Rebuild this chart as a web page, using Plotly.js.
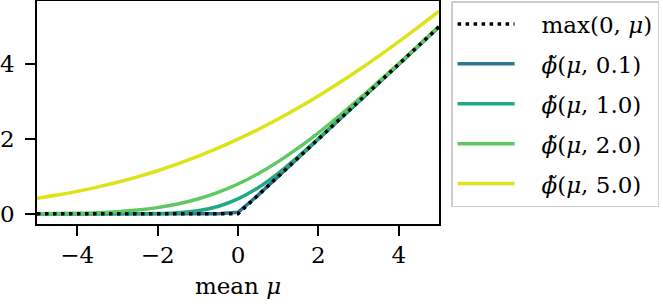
<!DOCTYPE html>
<html>
<head>
<meta charset="utf-8">
<script src="https://cdn.plot.ly/plotly-3.0.1.min.js"></script>
<style>html,body{margin:0;padding:0;background:#fff;}#chart{width:663px;height:308px;}</style>
</head>
<body>
<div id="chart"></div>
<script>
// mean values (x axis)
const mu = [-5, -4.5, -4, -3.5, -3, -2.5, -2, -1.5, -1, -0.5, 0, 0.5, 1, 1.5, 2, 2.5, 3, 3.5, 4, 4.5, 5];
// max(0, mu)
const relu = [0, 0, 0, 0, 0, 0, 0, 0, 0, 0, 0, 0.5, 1, 1.5, 2, 2.5, 3, 3.5, 4, 4.5, 5];
// smoothed curves
const phi01 = [0, 0, 0, 0, 0, 0, 0, 0, 0, 0, 0.04, 0.5, 1, 1.5, 2, 2.5, 3, 3.5, 4, 4.5, 5];
const phi10 = [0, 0, 0, 0.0001, 0.0004, 0.002, 0.0085, 0.0293, 0.0833, 0.1978, 0.3989, 0.6978, 1.0833, 1.5293, 2.0085, 2.502, 3.0004, 3.5001, 4, 4.5, 5];
const phi20 = [0.004, 0.0085, 0.017, 0.0324, 0.0586, 0.1012, 0.1666, 0.2623, 0.3956, 0.5727, 0.7979, 1.0727, 1.3956, 1.7623, 2.1666, 2.6012, 3.0586, 3.5324, 4.017, 4.5085, 5.004];
const phi50 = [0.4166, 0.5022, 0.601, 0.7144, 0.8434, 0.989, 1.1522, 1.3338, 1.5345, 1.7547, 1.9947, 2.2547, 2.5345, 2.8338, 3.1522, 3.489, 3.8434, 4.2144, 4.601, 5.0022, 5.4166];
const names = ["max(0, <i>μ</i>)", "<i>ϕ̃</i>(<i>μ</i>, 0.1)", "<i>ϕ̃</i>(<i>μ</i>, 1.0)", "<i>ϕ̃</i>(<i>μ</i>, 2.0)", "<i>ϕ̃</i>(<i>μ</i>, 5.0)"];
const xTickVals = [-4, -2, 0, 2, 4];
const xTickText = ["−4", "−2", "0", "2", "4"];
const yTickVals = [0, 2, 4];
const yTickText = ["0", "2", "4"];

const colors = ["#000000", "#2a788e", "#22a884", "#5ec962", "#dde318"];
const FONT = "DejaVu Serif, serif";
const FS = 23;
const PAD = "\u00a0\u00a0\u00a0";

const series = [phi01, phi10, phi20, phi50];
const traces = [];
series.forEach((ys, i) => {
  traces.push({
    x: mu, y: ys, type: "scatter", mode: "lines",
    name: PAD + names[i + 1], legendrank: i + 2, legendgroup: "g" + (i + 1),
    line: {color: colors[i + 1], width: 3.5, shape: i === 0 ? "linear" : "spline"},
    hoverinfo: "skip"
  });
});
traces.push({
  x: mu, y: relu, type: "scatter", mode: "lines",
  name: PAD + names[0], legendrank: 1, legendgroup: "g0",
  line: {color: colors[0], width: 3.5, dash: "3.5px,4.5px"},
  hoverinfo: "skip"
});

const layout = {
  width: 663, height: 308,
  margin: {l: 37, r: 224, t: 1, b: 84, pad: 0},
  paper_bgcolor: "#ffffff", plot_bgcolor: "#ffffff",
  font: {family: FONT, size: FS, color: "#000000"},
  showlegend: true,
  legend: {
    x: 1.03, xanchor: "left", y: 1.0, yanchor: "top",
    bordercolor: "#cccccc", borderwidth: 1.5, bgcolor: "#ffffff",
    font: {family: FONT, size: FS, color: "#000000"},
    tracegroupgap: 7, itemwidth: 57, traceorder: "grouped"
  },
  xaxis: {
    range: [-5, 5], tickvals: xTickVals, ticktext: xTickText,
    showline: true, mirror: true, linecolor: "#000000", linewidth: 1.8,
    ticks: "outside", ticklen: 10, tickwidth: 1.8, tickcolor: "#000000",
    showgrid: false, zeroline: false, automargin: false,
    title: {text: "mean <i>μ</i>", font: {family: FONT, size: FS}, standoff: 10},
    tickfont: {family: FONT, size: FS}
  },
  yaxis: {
    range: [-0.271, 5.688], tickvals: yTickVals, ticktext: yTickText,
    showline: true, mirror: true, linecolor: "#000000", linewidth: 1.8,
    ticks: "outside", ticklen: 10, tickwidth: 1.8, tickcolor: "#000000",
    showgrid: false, zeroline: false, automargin: false,
    ticklabelstandoff: 6,
    tickfont: {family: FONT, size: FS}
  }
};

Plotly.newPlot("chart", traces, layout, {staticPlot: true, displayModeBar: false});
</script>
</body>
</html>
